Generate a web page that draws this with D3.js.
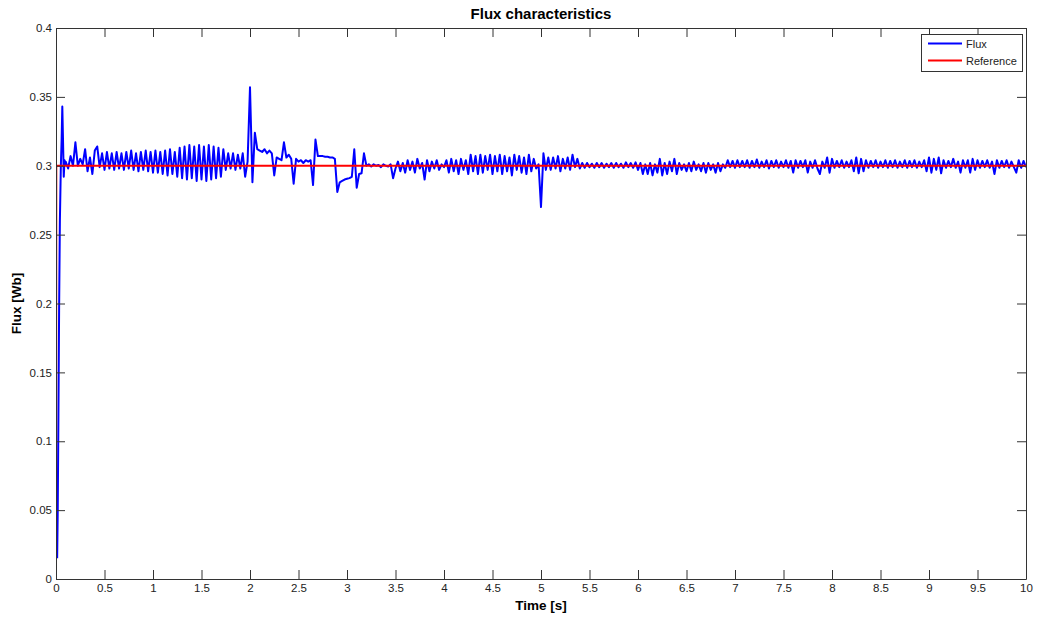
<!DOCTYPE html>
<html><head><meta charset="utf-8">
<script src="https://cdn.jsdelivr.net/npm/d3@7"></script>
<style>
body{margin:0;background:#fff;}
svg{display:block;font-family:"Liberation Sans",Arial,sans-serif;}
</style></head><body>
<svg id="chart" width="1037" height="619"></svg>
<script>
// Axis ticks
const xTicks = [0,0.5,1,1.5,2,2.5,3,3.5,4,4.5,5,5.5,6,6.5,7,7.5,8,8.5,9,9.5,10];
const yTicks = [0,0.05,0.1,0.15,0.2,0.25,0.3,0.35,0.4];

// Reference flux (Wb): step to 0.3 Wb at start-up
const refTime  = [0, 0.003, 10];
const refValue = [0, 0.3, 0.3];

// Measured flux during start-up (s, mWb)
const fluxStartTime    = [0.012,0.018,0.025,0.032,0.040,0.050,0.058,0.065,0.072,0.080,0.088,0.095];
const fluxStartMilliWb = [15,50,120,195,260,300,319,343,320,292,304,301];

// Measured flux after start-up, sampled every 0.025 s from 0.1 s (mWb)
const fluxSampleStart = 0.1;
const fluxSampleStep  = 0.025;
const fluxMilliWb = [
  // 0.1 - 0.575
  303,298,307,300,317,300,305,301,312,296,306,294,311,314,299,309,297,310,298,309,
  // 0.6 - 1.075
  297,310,298,309,297,310,298,311,297,309,296,310,297,311,296,310,295,311,295,310,
  // 1.1 - 1.575
  294,311,293,312,294,310,292,313,291,314,290,315,291,314,289,315,290,314,289,315,
  // 1.6 - 2.075
  290,314,291,313,292,312,297,309,298,309,297,308,298,309,292,303,357,288,324,312,
  // 2.1 - 2.575
  311,310,312,309,311,309,293,306,305,304,317,306,308,305,287,305,303,304,302,304,
  // 2.6 - 3.075
  303,304,286,319,307,307,307,306.5,306.5,306,306,305,281,288,289,290,290.5,291,292,312,
  // 3.1 - 3.575
  284,294,294.5,309,300,301,299.5,301,300,300.5,299,301,300,299.5,301,291,298,303,296,302,
  // 3.6 - 4.075
  295,304,297,303,295,305,298,302,290,304,296,303,298,304,297,301,299,304,295,305,
  // 4.1 - 4.575
  296,304,294,305,297,304,294,308,296,307,294,308,295,307,297,308,294,307,296,308,
  // 4.6 - 5.075
  294,307,296,306,293,308,297,307,295,306,294,308,296,305,298,301,270,309,297,306,
  // 5.1 - 5.575
  297,306,298,307,296,305,298,306,297,308,299,305,298,302,298.5,302,299,301.5,298.5,302,
  // 5.6 - 6.075
  299,302,298.5,301.5,299,302,298.5,302,299,301.5,298.5,302.5,299,302,298.5,302.5,297,302,294,301,
  // 6.1 - 6.575
  294,302,293,301,295,305,293,302,294,303,296,305,294,302,297,301,296,302,296,303,
  // 6.6 - 7.075
  297,301,296,302,295,302,297,301,295,302,296,301,298.5,304,299,303.5,298.5,304,299,303.5,
  // 7.1 - 7.575
  299,304,298.5,303.5,299,304.5,298.5,303,299,304,298,303.5,299,304,298.5,303,299,304,298.5,303.5,
  // 7.6 - 8.075
  295,304,298.5,303.5,299,304,295,303,298.5,304,298,294,303,298.5,306,295,305,298.5,303.5,299,
  // 8.1 - 8.575
  304,298.5,303,299,304,296,306,294.5,305,296,304,298.5,303.5,299,304,298.5,303,299,304,298.5,
  // 8.6 - 9.075
  303.5,299,304,298.5,303,299,304,298.5,303.5,299,304,298.5,303,299,304,296,306,295,305,297,
  // 9.1 - 9.575
  306,294.5,304,298.5,303.5,299,305,298.5,303,295,304,298.5,304,295,305,297,304,298.5,303.5,299,
  // 9.6 - 10.0
  304,298.5,303,294,304,298.5,303.5,299,304,298.5,303,299,295,304,298.5,303.5,299
];

const seriesNames  = ["Flux", "Reference"];
const seriesColors = ["#0000ff", "#ff0000"];

const svg = d3.select("#chart");
const W = 1037, H = 619;
const plot = {left: 56, right: 1026, top: 28, bottom: 579};

svg.append("rect").attr("width", W).attr("height", H).attr("fill", "#ffffff");

const x = d3.scaleLinear().domain([0, 10]).range([plot.left, plot.right]);
const y = d3.scaleLinear().domain([0, 0.4]).range([plot.bottom, plot.top]);

// Flux trace: start-up part followed by the regularly sampled part
const fluxPoints = fluxStartTime.map((t, i) => [t, fluxStartMilliWb[i] / 1000])
  .concat(fluxMilliWb.map((v, i) => [fluxSampleStart + i * fluxSampleStep, v / 1000]));
const refPoints = refTime.map((t, i) => [t, refValue[i]]);

const line = d3.line().x(d => x(d[0])).y(d => y(d[1]));

const clipId = "plot-clip";
svg.append("clipPath").attr("id", clipId).append("rect")
  .attr("x", plot.left).attr("y", plot.top)
  .attr("width", plot.right - plot.left).attr("height", plot.bottom - plot.top);

const lines = svg.append("g").attr("clip-path", `url(#${clipId})`);
lines.append("path").datum(fluxPoints)
  .attr("d", line).attr("fill", "none")
  .attr("stroke", seriesColors[0]).attr("stroke-width", 2)
  .attr("stroke-linejoin", "round");
lines.append("path").datum(refPoints)
  .attr("d", line).attr("fill", "none")
  .attr("stroke", seriesColors[1]).attr("stroke-width", 2);

// Axes: ticks pointing inward on all four sides
const fmt = d => String(+d.toFixed(2));
const axisColor = "#333";
const tickLen = 9;

function styleAxis(g) {
  g.selectAll(".domain").attr("stroke", axisColor);
  g.selectAll(".tick line").attr("stroke", axisColor);
  g.selectAll(".tick text").attr("fill", "#222").style("font-size", "11.5px")
    .style("font-family", '"Liberation Sans",Arial,sans-serif');
}

svg.append("g").attr("transform", `translate(0,${plot.bottom})`)
  .call(d3.axisBottom(x).tickValues(xTicks).tickFormat(fmt).tickSize(-tickLen).tickSizeOuter(0).tickPadding(5))
  .call(styleAxis);
svg.append("g").attr("transform", `translate(0,${plot.top})`)
  .call(d3.axisTop(x).tickValues(xTicks).tickFormat("").tickSize(-tickLen).tickSizeOuter(0))
  .call(styleAxis);
svg.append("g").attr("transform", `translate(${plot.left},0)`)
  .call(d3.axisLeft(y).tickValues(yTicks).tickFormat(fmt).tickSize(-tickLen).tickSizeOuter(0).tickPadding(4))
  .call(styleAxis);
svg.append("g").attr("transform", `translate(${plot.right},0)`)
  .call(d3.axisRight(y).tickValues(yTicks).tickFormat("").tickSize(-tickLen).tickSizeOuter(0))
  .call(styleAxis);

// Titles
svg.append("text").attr("x", (plot.left + plot.right) / 2).attr("y", 19)
  .attr("text-anchor", "middle").attr("font-weight", "bold").attr("font-size", 15)
  .attr("fill", "#000").text("Flux characteristics");
svg.append("text").attr("x", (plot.left + plot.right) / 2).attr("y", 610)
  .attr("text-anchor", "middle").attr("font-weight", "bold").attr("font-size", 13.5)
  .attr("fill", "#000").text("Time [s]");
svg.append("text").attr("transform", `translate(21,${(plot.top + plot.bottom) / 2}) rotate(-90)`)
  .attr("text-anchor", "middle").attr("font-weight", "bold").attr("font-size", 13.5)
  .attr("fill", "#000").text("Flux [Wb]");

// Legend
const legend = svg.append("g");
legend.append("rect").attr("x", 921.5).attr("y", 34.5).attr("width", 101).attr("height", 37)
  .attr("fill", "#fff").attr("stroke", axisColor);
seriesNames.forEach((name, i) => {
  const ly = 43.5 + i * 17;
  legend.append("line").attr("x1", 928).attr("x2", 962).attr("y1", ly).attr("y2", ly)
    .attr("stroke", seriesColors[i]).attr("stroke-width", 2);
  legend.append("text").attr("x", 966).attr("y", ly + 4).attr("font-size", 11)
    .attr("fill", "#222").text(name);
});
</script></body></html>
